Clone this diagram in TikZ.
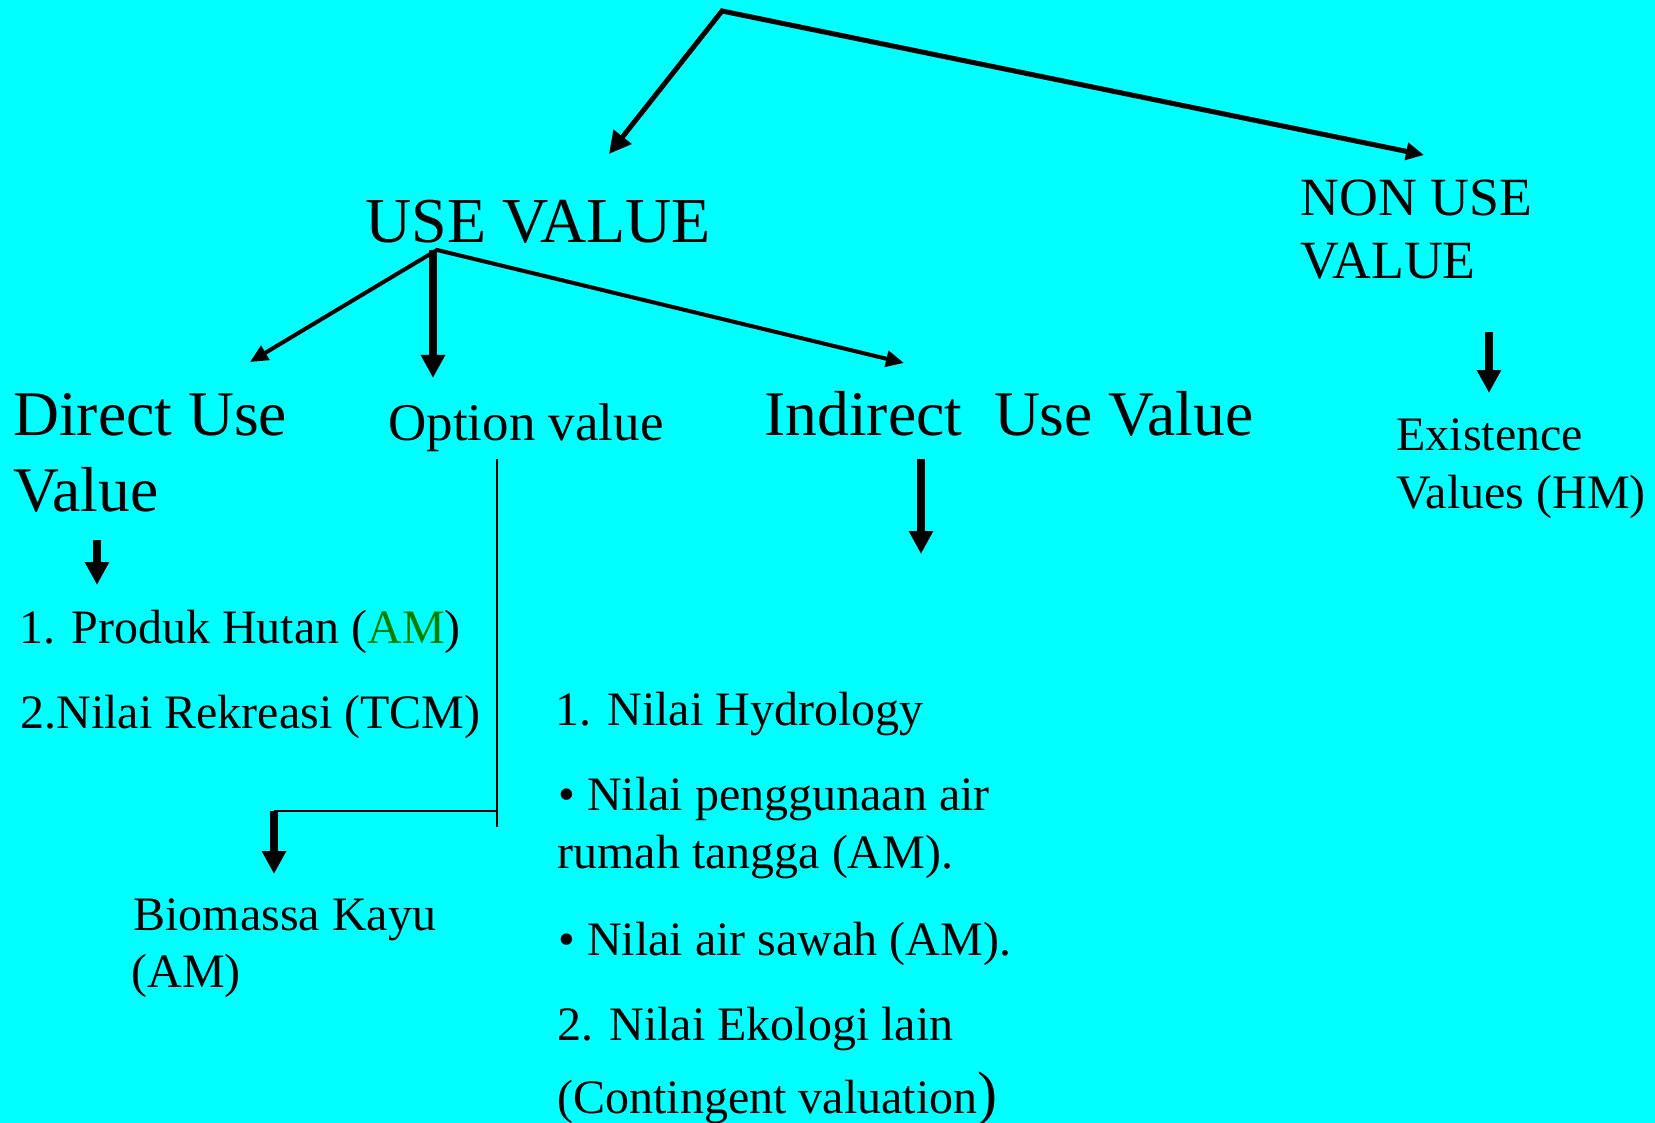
\documentclass[tikz,border=0pt]{standalone}
\usepackage{fontspec}
\setmainfont{Liberation Serif}
\usetikzlibrary{arrows.meta}
\definecolor{bgcyan}{RGB}{0,255,255}
\definecolor{amgreen}{RGB}{0,128,0}

\begin{document}
\begin{tikzpicture}[x=0.5pt,y=-0.5pt,
  lbl/.style={anchor=base west,inner sep=0pt},
  big/.style={lbl,font=\fontsize{31.8}{38}\selectfont},
  head/.style={lbl,font=\fontsize{26.9}{32}\selectfont},
  small/.style={lbl,font=\fontsize{24}{29}\selectfont},
  down/.style={line width=4pt,-{Triangle[length=11.5pt,width=11.5pt]}}]
\fill[bgcyan] (0,0) rectangle (1655,1123);
\useasboundingbox (0,0) rectangle (1655,1123);

\node[lbl,font=\fontsize{32}{38}\selectfont] (use) at (365,243) {USE VALUE};
\node[head] (non1) at (1300,216) {NON USE};
\node[head] (non2) at (1300,279) {VALUE};
\node[big] (dir1) at (13,435) {Direct Use};
\node[big] (dir2) at (13,511) {Value};
\node[lbl,font=\fontsize{26.5}{32}\selectfont] (opt) at (388,440) {Option value};
\node[big] (ind) at (764,435) {Indirect\ \ Use Value};
\node[small] (ex1) at (1396,450) {Existence};
\node[small] (ex2) at (1396,508) {Values (HM)};
\node[small] (prod) at (19,643) {1. Produk Hutan (\textcolor{amgreen}{AM})};
\node[small] (rek) at (20,728) {2.Nilai Rekreasi (TCM)};
\node[small] (bio1) at (133,930) {Biomassa Kayu};
\node[small] (bio2) at (131,987) {(AM)};
\node[small] (hyd1) at (555,725) {1. Nilai Hydrology};
\node[small] (hyd2) at (558,810) {• Nilai penggunaan air};
\node[small] (hyd3) at (557,868) {rumah tangga (AM).};
\node[small] (hyd4) at (558,955) {• Nilai air sawah (AM).};
\node[small] (hyd5) at (557,1040) {2. Nilai Ekologi lain};
\node[small] (hyd6) at (557,1113) {(Contingent valuation{\fontsize{30}{30}\selectfont)}};

\coordinate (top) at (722,11);
\coordinate (usetip) at (609,154);
\coordinate (nontip) at (1424,155);
\coordinate (fork) at (437,250);
\coordinate (dirtip) at (250,362);
\coordinate (indtip) at (904,363);
\coordinate (optfrom) at (433,250);
\coordinate (optto) at (433,378);
\coordinate (dirfrom) at (97,540);
\coordinate (dirto) at (97,585);
\coordinate (indfrom) at (921,459);
\coordinate (indto) at (921,554);
\coordinate (nonfrom) at (1489,332);
\coordinate (nonto) at (1489,393);
\coordinate (optline) at (497,459);
\coordinate (optend) at (497,827);
\coordinate (bend) at (497,811);
\coordinate (biofrom) at (274,811);
\coordinate (bioto) at (274,874);

\draw[line width=2.5pt,{Triangle[length=11pt,width=11pt]}-{Triangle[length=9pt,width=8.5pt]}] (usetip) -- (top) -- (nontip);
\draw[line width=2pt,{Triangle[length=9pt,width=8pt]}-{Triangle[length=9pt,width=8pt]}] (dirtip) -- (fork) -- (indtip);
\draw[down] (optfrom) -- (optto);
\draw[down] (dirfrom) -- (dirto);
\draw[down] (indfrom) -- (indto);
\draw[down] (nonfrom) -- (nonto);
\draw[line width=1pt] (optline) -- (optend);
\draw[line width=1pt] (bend) -- (biofrom);
\draw[down] (biofrom) -- (bioto);
\end{tikzpicture}
\end{document}
